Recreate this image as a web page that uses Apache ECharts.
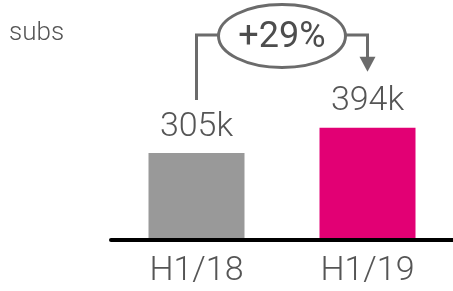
<!DOCTYPE html>
<html lang="en">
<head>
    <meta charset="utf-8">
    <title>subs H1/18 vs H1/19</title>
    <style>
        html, body { margin: 0; padding: 0; background: #fff; }
        #chart { width: 453px; height: 291px; }
    </style>
</head>
<body>
    <div id="chart"></div>

<script src="https://cdn.jsdelivr.net/npm/echarts@6/dist/echarts.min.js"></script>
<script>
    // data
    var periods = ['H1/18', 'H1/19'];
    var subs = [305, 394];      // thousands
    var barColors = ['#999999', '#e20074'];
    var unitLabel = 'subs';

    var textColor = '#555555';
    var lineColor = '#6b6b6b';

    var myChart = echarts.init(document.getElementById('chart'));

    var option = {
        animation: false,
        grid: { left: 111, right: -2, top: 69, bottom: 51 },
        xAxis: {
            type: 'category',
            data: periods,
            z: 3,
            axisLine: { lineStyle: { color: '#000', width: 4 } },
            axisTick: { show: false },
            axisLabel: {
                color: textColor,
                fontFamily: 'Roboto',
                fontWeight: 300,
                fontSize: 34,
                margin: 14
            }
        },
        yAxis: {
            type: 'value',
            min: 0,
            max: 600,
            show: false
        },
        series: [{
            type: 'bar',
            barWidth: 96,
            data: subs.map(function (v, i) {
                return { value: v, itemStyle: { color: barColors[i] } };
            }),
            label: {
                show: true,
                position: 'top',
                distance: 9,
                color: textColor,
                fontFamily: 'Roboto',
                fontWeight: 300,
                fontSize: 34,
                formatter: function (p) { return p.value + 'k'; }
            }
        }]
    };
    myChart.setOption(option);

    // growth annotation, placed from the bar positions
    var a = myChart.convertToPixel({ seriesIndex: 0 }, [0, subs[0]]);
    var b = myChart.convertToPixel({ seriesIndex: 0 }, [1, subs[1]]);
    var growth = Math.round((subs[1] / subs[0] - 1) * 100);

    var cx = (a[0] + b[0]) / 2;
    var cy = 36;
    var rx = 63.5, ry = 31.5;
    var linkY = 35;
    var startY = a[1] - 53;
    var tipY = b[1] - 56;

    myChart.setOption({
        graphic: [
            {
                type: 'text',
                left: 9,
                top: 20,
                style: {
                    text: unitLabel,
                    fill: textColor,
                    font: '300 26px Roboto'
                }
            },
            {
                type: 'polyline',
                shape: { points: [[a[0], startY], [a[0], linkY], [cx - rx, linkY]] },
                style: { stroke: lineColor, lineWidth: 3, fill: null }
            },
            {
                type: 'polyline',
                shape: { points: [[cx + rx, linkY], [b[0], linkY], [b[0], tipY - 14]] },
                style: { stroke: lineColor, lineWidth: 3, fill: null }
            },
            {
                type: 'polygon',
                shape: { points: [[b[0] - 8, tipY - 15], [b[0] + 8, tipY - 15], [b[0], tipY]] },
                style: { fill: lineColor }
            },
            {
                type: 'ellipse',
                shape: { cx: cx, cy: cy, rx: rx, ry: ry },
                style: { fill: '#fff', stroke: lineColor, lineWidth: 3 },
                z: 10
            },
            {
                type: 'text',
                x: cx,
                y: cy + 2,
                z: 11,
                style: {
                    text: '+' + growth + '%',
                    fill: '#4d4d4d',
                    font: '400 36px Roboto',
                    align: 'center',
                    verticalAlign: 'middle'
                }
            }
        ]
    });
</script>
</body>
</html>
